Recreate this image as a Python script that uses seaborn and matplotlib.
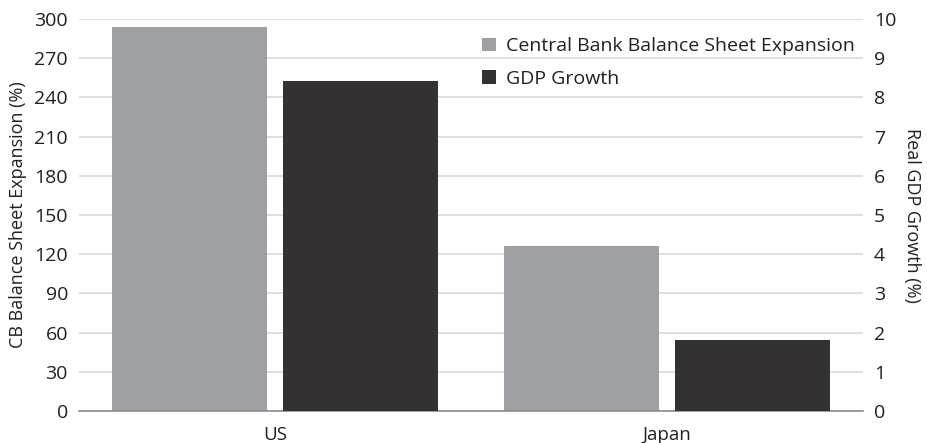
import pandas as pd
import seaborn as sns
import matplotlib.pyplot as plt
from matplotlib.patches import Patch

countries = ["US", "Japan"]
cb_expansion = [294, 126]        # % change in central bank balance sheet
gdp_growth = [8.42, 1.81]        # real GDP growth, %
series_names = ["Central Bank Balance Sheet Expansion", "GDP Growth"]
left_ticks = [0, 30, 60, 90, 120, 150, 180, 210, 240, 270, 300]
right_ticks = [0, 1, 2, 3, 4, 5, 6, 7, 8, 9, 10]

gray = "#9fa0a3"
dark = "#333132"
text_col = "#231f20"

sns.set_theme(style="white")
plt.rcParams["font.family"] = ["Open Sans", "DejaVu Sans"]

cb_df = pd.DataFrame({"country": countries, "value": cb_expansion, "series": series_names[0]})
gdp_df = pd.DataFrame({"country": countries, "value": gdp_growth, "series": series_names[1]})

fig = plt.figure(figsize=(9.28, 4.43), dpi=100)
ax = fig.add_axes([79 / 928, 32 / 443, 784 / 928, 392 / 443])
ax2 = ax.twinx()

palette = {series_names[0]: gray, series_names[1]: dark}
bar_kw = dict(x="country", y="value", hue="series", hue_order=series_names,
              palette=palette, order=countries, width=0.872, gap=0.094, dodge=True,
              legend=False, saturation=1, linewidth=0, edgecolor="none")
sns.barplot(data=cb_df, ax=ax, **bar_kw)
sns.barplot(data=gdp_df, ax=ax2, **bar_kw)

ax.set_xlim(-0.5, 1.5)
ax.set_ylim(0, 300)
ax2.set_ylim(0, 10)
ax.set_yticks(left_ticks)
ax2.set_yticks(right_ticks)

ax.yaxis.grid(True, color="#d9d9d9", linewidth=1.2)
ax.set_axisbelow(True)
ax2.grid(False)

for a in (ax, ax2):
    for s in ("top", "left", "right", "bottom"):
        a.spines[s].set_visible(False)
    a.tick_params(axis="both", length=0, labelsize=14, labelcolor=text_col)
ax.spines["bottom"].set_visible(True)
ax.spines["bottom"].set_color("#8a8a8d")
ax.spines["bottom"].set_linewidth(1.2)
ax.tick_params(axis="y", pad=8)
ax2.tick_params(axis="y", pad=8)
ax.tick_params(axis="x", pad=11, labelsize=13.5)

ax.set_xlabel("")
ax.set_ylabel("CB Balance Sheet Expansion (%)", fontsize=13, color=text_col, labelpad=5)
ax2.set_ylabel("Real GDP Growth (%)", fontsize=13, color=text_col, rotation=270, labelpad=18)

# legend drawn from the two series colours
handles = [Patch(facecolor=palette[n], edgecolor="none") for n in series_names]
leg = ax2.legend(handles, series_names, loc="upper left", bbox_to_anchor=(0.491, 1.0),
                 frameon=False, fontsize=14, handlelength=0.7, handleheight=0.7,
                 handletextpad=0.5, labelspacing=0.75, borderaxespad=0.55)
for t in leg.get_texts():
    t.set_color(text_col)

fig.savefig("out.png", dpi=100)
